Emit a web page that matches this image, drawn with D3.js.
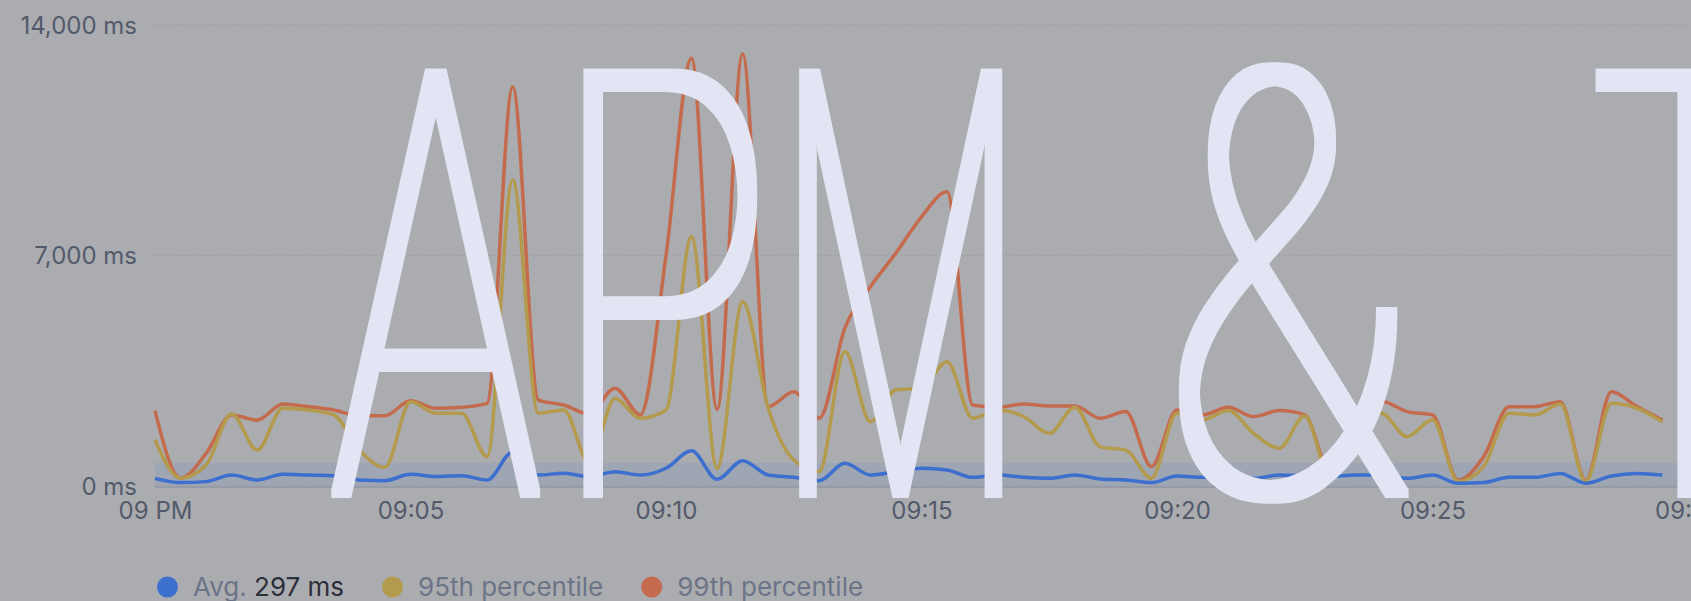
<!DOCTYPE html>
<html>
<head>
<meta charset="utf-8">
<script src="https://cdn.jsdelivr.net/npm/d3@7"></script>
<style>
  html, body { margin: 0; padding: 0; background: #abacb0; overflow: hidden; }
  svg { display: block; }
  .tick-label { font-family: Inter, "Noto Sans", sans-serif; font-size: 24px; fill: #535a6a; }
  .legend-text { font-family: Inter, "Noto Sans", sans-serif; font-size: 26px; fill: #6c7487; }
</style>
</head>
<body>
<svg id="chart"></svg>
<script>
// 30 second buckets from 09:00:00 to 09:29:30
const startTime = new Date(2024, 0, 15, 21, 0, 0);
const endTime = new Date(2024, 0, 15, 21, 30, 0);
const stepSeconds = 30;

const avgMs = [
  245, 115, 145, 345, 195, 365, 345, 325, 195, 175,
  365, 300, 325, 195, 1040, 345, 400, 295, 445, 345,
  550, 1080, 215, 780, 345, 275, 175, 700, 345, 445,
  550, 500, 275, 345, 275, 245, 345, 225, 195, 115,
  315, 275, 395, 245, 345, 315, 295, 345, 345, 245,
  345, 95, 115, 275, 275, 395, 95, 315, 395, 345
];
const p95Ms = [
  1410, 250, 650, 2200, 1100, 2370, 2320, 2170, 1100, 580,
  2570, 2220, 2220, 900, 9300, 2220, 2320, 700, 2670, 2070,
  2320, 7580, 550, 5600, 2370, 800, 450, 4090, 1960, 2930,
  2980, 3780, 2070, 2320, 2120, 1610, 2400, 1200, 1100, 250,
  2220, 2020, 2300, 1610, 1160, 2140, 250, 1950, 2220, 1510,
  2020, 150, 600, 2220, 2170, 2500, 150, 2520, 2370, 1960
];
const p99Ms = [
  2300, 250, 1000, 2170, 2010, 2500, 2420, 2320, 2140, 2140,
  2600, 2370, 2400, 2520, 12130, 2620, 2470, 2200, 2980, 2170,
  7000, 12990, 2340, 13120, 2420, 2870, 2070, 4800, 6060, 7080,
  8180, 8940, 2470, 2400, 2500, 2440, 2440, 2070, 2270, 600,
  2320, 2170, 2400, 2120, 2300, 2170, 430, 2250, 2580, 2270,
  2170, 190, 900, 2420, 2420, 2570, 190, 2870, 2420, 2010
];
const expectedRangeMs = [0, 720];

const yTicks = [0, 7000, 14000];
const xTickMinutes = [0, 5, 10, 15, 20, 25, 30];
const xTickLabels = ["09 PM", "09:05", "09:10", "09:15", "09:20", "09:25", "09:30"];

const seriesNames = ["avg", "p95", "p99"];
const seriesColors = ["#3d6fcf", "#b39a4d", "#c46b4d"];
const legendLabels = ["Avg.", "95th percentile", "99th percentile"];
const avgLabelValue = "297 ms";

const overlayText = ["A", "P", "M", " ", "&", " ", "T"];
// ink boxes of the big glyphs (left, right), shared top / baseline
const overlayBoxes = [[331, 545], [582, 762], [798, 1004], null, [1175, 1413], null, [1592, 1780]];

const W = 1691, H = 601;
const svg = d3.select("#chart").attr("width", W).attr("height", H);

const x = d3.scaleTime().domain([startTime, endTime]).range([155, 1688]);
const y = d3.scaleLinear().domain([0, 14000]).range([486.4, 25]);

const times = avgMs.map((d, i) => new Date(+startTime + i * stepSeconds * 1000));
const series = [avgMs, p95Ms, p99Ms].map((vals, k) => ({
  name: seriesNames[k],
  color: seriesColors[k],
  values: vals.map((v, i) => ({ t: times[i], v }))
}));

// expected range band
svg.append("path")
  .datum([startTime, endTime])
  .attr("fill", "#9ea5b3")
  .attr("d", d3.area().x(d => x(d)).y0(y(expectedRangeMs[0])).y1(y(expectedRangeMs[1])));

// grid
svg.append("g")
  .selectAll("line")
  .data(yTicks)
  .join("line")
  .attr("x1", x(startTime))
  .attr("x2", W)
  .attr("y1", d => y(d))
  .attr("y2", d => y(d))
  .attr("stroke", "#979aa1")
  .attr("stroke-width", 1)
  .attr("stroke-dasharray", "1.5,2");

svg.append("line")
  .attr("x1", x(startTime)).attr("x2", W)
  .attr("y1", y(0) + 0.5).attr("y2", y(0) + 0.5)
  .attr("stroke", "#979ba5").attr("stroke-width", 2);

// y axis
const yAxis = svg.append("g")
  .attr("transform", "translate(137,0)")
  .call(d3.axisLeft(y).tickValues(yTicks).tickSize(0).tickPadding(0)
    .tickFormat(d => d3.format(",")(d) + " ms"));
yAxis.select(".domain").remove();
yAxis.selectAll("text").attr("class", "tick-label").attr("fill", null).attr("dy", "0.34em");

// x axis
const xTicks = xTickMinutes.map(m => new Date(+startTime + m * 60000));
const xAxis = svg.append("g")
  .attr("transform", `translate(0,${y(0)})`)
  .call(d3.axisBottom(x).tickValues(xTicks).tickSize(0).tickPadding(0)
    .tickFormat((d, i) => xTickLabels[i]));
xAxis.select(".domain").remove();
xAxis.selectAll("text").attr("class", "tick-label").attr("fill", null).attr("y", 33).attr("dy", 0);

// lines
const line = d3.line().x(d => x(d.t)).y(d => y(d.v)).curve(d3.curveMonotoneX);
svg.append("g")
  .selectAll("path")
  .data(series.slice().reverse())
  .join("path")
  .attr("fill", "none")
  .attr("stroke", d => d.color)
  .attr("stroke-width", 3.5)
  .attr("stroke-linejoin", "round")
  .attr("d", d => line(d.values));

// legend
const legend = svg.append("g").attr("transform", "translate(157,587)");
let lx = 0;
legendLabels.forEach((label, k) => {
  legend.append("circle").attr("cx", lx + 10.5).attr("cy", 0).attr("r", 10.5).attr("fill", seriesColors[k]);
  const t = legend.append("text").attr("class", "legend-text").attr("x", lx + 36).attr("dy", "0.35em").text(label);
  if (k === 0) {
    t.append("tspan").text(" ");
    t.append("tspan").attr("fill", "#2b2f3a").text(avgLabelValue);
  }
  lx += 36 + t.node().getComputedTextLength() + 38;
});

// big overlay title
const fontFamily = "Roboto";
const fontWeight = 100;
const growX = 5, growY = 4; // dilation to thicken the thin strokes
const capTop = 66 + growY, baseline = 498 - growY;
const ctx = document.createElement("canvas").getContext("2d");
ctx.font = `${fontWeight} 200px ${fontFamily}`;
const capRatio = ctx.measureText("H").actualBoundingBoxAscent / 200;
const fontSize = (baseline - capTop) / capRatio;
ctx.font = `${fontWeight} ${fontSize}px ${fontFamily}`;

const defs = svg.append("defs");
const filter = defs.append("filter").attr("id", "thicken")
  .attr("x", "-5%").attr("y", "-5%").attr("width", "110%").attr("height", "110%");
filter.append("feMorphology").attr("operator", "dilate").attr("radius", `${growX} ${growY}`);

const title = svg.append("text")
  .attr("y", baseline)
  .attr("fill", "#e3e5f4")
  .attr("filter", "url(#thicken)")
  .style("font-family", fontFamily)
  .style("font-weight", fontWeight)
  .style("font-size", fontSize + "px")
  .style("white-space", "pre");

overlayText.forEach((ch, i) => {
  const box = overlayBoxes[i];
  const ts = title.append("tspan").text(ch);
  if (!box) return;
  const m = ctx.measureText(ch);
  const left = box[0] + growX, right = box[1] - growX;
  const s = (right - left) / (m.actualBoundingBoxLeft + m.actualBoundingBoxRight);
  ts.attr("x", left + m.actualBoundingBoxLeft * s)
    .attr("textLength", m.width * s)
    .attr("lengthAdjust", "spacingAndGlyphs");
});
</script>
</body>
</html>
